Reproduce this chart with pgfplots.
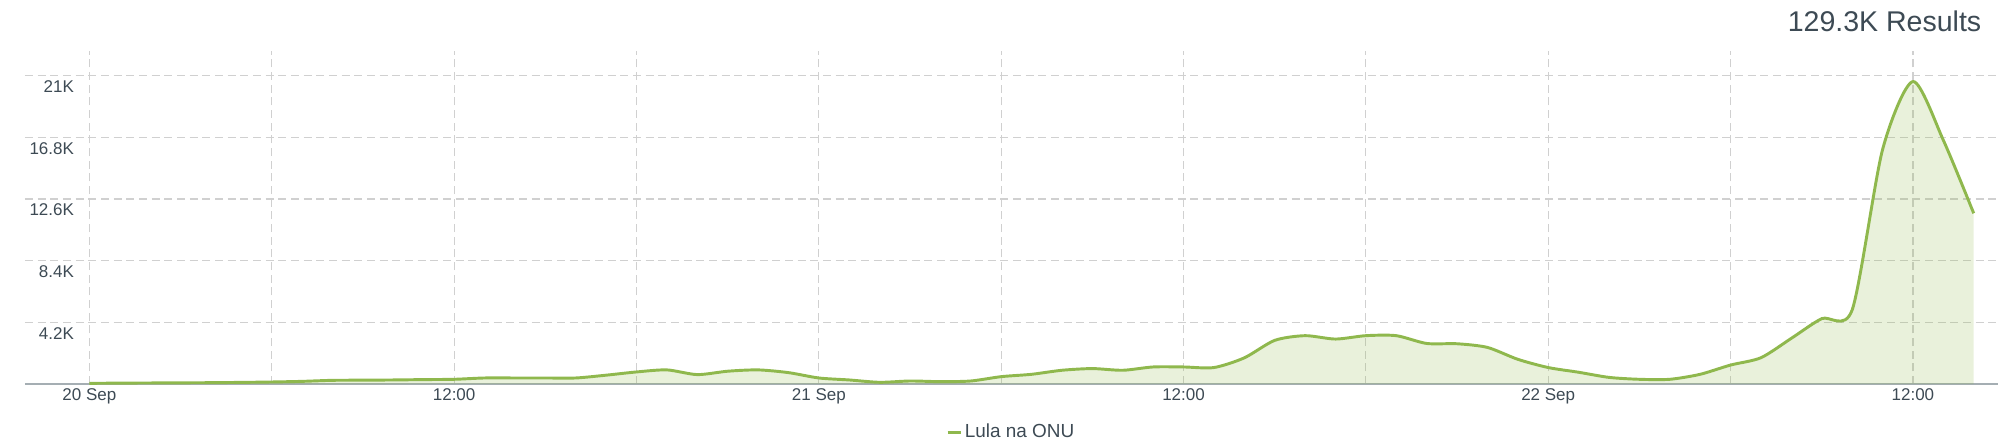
\documentclass[border=0pt]{standalone}
\usepackage{pgfplots}
\pgfplotsset{compat=1.18}
\usepackage{pgfplotstable}
\usepackage{fontspec}
\setmainfont{Liberation Sans}

\definecolor{lulagreen}{RGB}{143,184,77}
\definecolor{gridgray}{RGB}{208,208,208}
\definecolor{txt}{RGB}{61,74,84}
\definecolor{axisgray}{RGB}{165,174,179}

% hourly counts, hour 0 = 20 Sep 00:00
\pgfplotstableread{
h v
0 45
1 60
2 70
3 80
4 90
5 110
6 137
7 180
8 250
9 260
10 275
11 300
12 320
13 410
14 410
15 410
16 410
17 600
18 820
19 960
20 640
21 870
22 960
23 775
24 410
25 275
26 115
27 205
28 160
29 205
30 500
31 660
32 935
33 1050
34 935
35 1160
36 1160
37 1120
38 1780
39 2970
40 3290
41 3060
42 3290
43 3290
44 2760
45 2740
46 2490
47 1680
48 1120
49 800
50 450
51 320
52 320
53 660
54 1290
55 1790
56 3110
57 4450
58 5040
59 15950
60 20590
61 16600
62 11620
}\lula

\begin{document}
\begin{tikzpicture}
\begin{axis}[
  scale only axis, width=1479.75pt, height=249.75pt,
  xmin=-2.12, xmax=62.8, ymin=0, ymax=22670,
  scaled y ticks=false,
  axis x line*=bottom, axis y line*=left,
  x axis line style={-, draw=axisgray, line width=1.1pt},
  y axis line style={draw=none},
  xtick={0,12,24,36,48,60},
  xticklabels={20 Sep,12:00,21 Sep,12:00,22 Sep,12:00},
  minor xtick={6,18,30,42,54},
  ytick={4200,8400,12600,16800,21000},
  yticklabels={4.2K,8.4K,12.6K,16.8K,21K},
  major tick length=0pt, minor tick length=0pt,
  xmajorgrids, xminorgrids, ymajorgrids,
  major grid style={gridgray, line width=0.9pt, dash pattern=on 6pt off 3.5pt},
  minor grid style={gridgray, line width=0.9pt, dash pattern=on 6pt off 3.5pt},
  tick label style={font=\fontsize{12.75}{15}\selectfont, text=txt},
  yticklabel style={anchor=east, xshift=40.25pt, yshift=-8.25pt},
  legend style={at={(0.5,0)}, anchor=center, yshift=-36pt, draw=none, fill=none,
    font=\fontsize{14.2}{17}\selectfont, text=txt},
  legend image code/.code={\draw[lulagreen, line width=2.25pt] (0pt,0pt) -- (9.75pt,0pt);},
]
\addplot[draw=none, fill=lulagreen, fill opacity=0.2, smooth, tension=0.45, forget plot]
  table[x=h, y=v] {\lula} \closedcycle;
\addplot[lulagreen, line width=2.2pt, smooth, tension=0.45] table[x=h, y=v] {\lula};
\addlegendentry{Lula na ONU}
\coordinate (sw) at (rel axis cs:0,0);
\coordinate (ne) at (rel axis cs:1,1);
\end{axis}
\node[anchor=base east, font=\fontsize{21.4}{25}\selectfont, text=txt]
  at ([xshift=-9pt, yshift=14.25pt]ne) {129.3K Results};
\pgfresetboundingbox
\path[use as bounding box] ([shift={(-18.75pt,-47.25pt)}]sw) rectangle ([yshift=38.25pt]ne);
\end{tikzpicture}
\end{document}
